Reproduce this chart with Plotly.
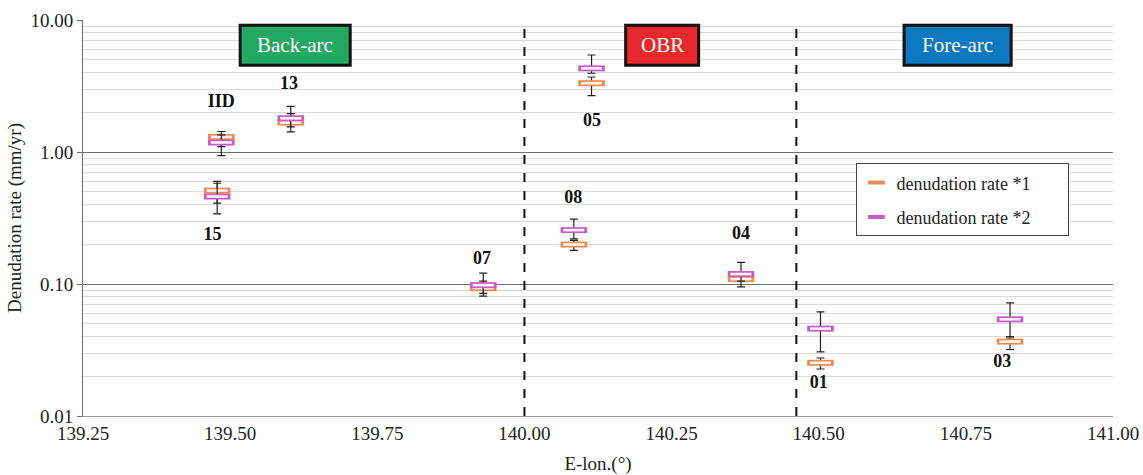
import plotly.graph_objects as go

# ---- data ----
sites = ["IID", "15", "13", "07", "08", "05", "04", "01", "03"]
lon = [139.485, 139.478, 139.603, 139.930, 140.084, 140.114, 140.368, 140.503, 140.825]
rate1 = [1.30, 0.51, 1.67, 0.093, 0.199, 3.32, 0.109, 0.0253, 0.0366]
rate1_hi = [1.43, 0.60, 1.95, 0.105, 0.214, 3.70, 0.120, 0.0275, 0.039]
rate1_lo = [1.10, 0.41, 1.42, 0.081, 0.180, 2.67, 0.095, 0.0227, 0.0319]
rate2 = [1.18, 0.46, 1.80, 0.098, 0.256, 4.30, 0.119, 0.0459, 0.054]
rate2_hi = [1.35, 0.58, 2.22, 0.121, 0.310, 5.43, 0.146, 0.0616, 0.072]
rate2_lo = [0.94, 0.34, 1.55, 0.085, 0.220, 3.95, 0.105, 0.0306, 0.040]
label_x = [139.485, 139.470, 139.600, 139.928, 140.083, 140.115, 140.368, 140.500, 140.812]
label_y = [2.38, 0.233, 3.25, 0.154, 0.443, 1.71, 0.237, 0.0177, 0.0255]

boundaries = [140.0, 140.462]
regions = ["Back-arc", "OBR", "Fore-arc"]
region_x0 = [139.517, 140.172, 140.645]
region_x1 = [139.704, 140.296, 140.827]
region_colors = ["#22a863", "#e8292b", "#0b78bf"]

x_ticks = [139.25, 139.50, 139.75, 140.00, 140.25, 140.50, 140.75, 141.00]
y_ticks = [0.01, 0.1, 1, 10]
y_ticktext = ["0.01", "0.10", "1.00", "10.00"]

SERIF = "Liberation Serif"
ORANGE = "#ef8b4f"
PINK = "#c85bc4"
PAD = "\u00a0" * 7

fig = go.Figure()


def add_series(name, vals, hi, lo, color, group):
    fig.add_trace(go.Scatter(
        x=lon, y=vals, mode="markers", name=name, legendgroup=group, showlegend=False,
        marker=dict(symbol="line-ew", size=19, line=dict(color=color, width=6)),
        error_y=dict(type="data", symmetric=False,
                     array=[h - v for h, v in zip(hi, vals)],
                     arrayminus=[v - l for v, l in zip(vals, lo)],
                     color="#222222", thickness=1.2, width=4),
    ))
    fig.add_trace(go.Scatter(
        x=lon, y=vals, mode="markers", showlegend=False, hoverinfo="skip",
        marker=dict(symbol="line-ew", size=15, line=dict(color="#fbf6f8", width=2.6)),
    ))
    # legend entry
    fig.add_trace(go.Scatter(
        x=[None], y=[None], mode="markers", name=name + PAD, legendgroup=group,
        marker=dict(symbol="line-ew", size=12, line=dict(color=color, width=4)),
    ))


add_series("denudation rate *1", rate1, rate1_hi, rate1_lo, ORANGE, "g1")
add_series("denudation rate *2", rate2, rate2_hi, rate2_lo, PINK, "g2")

fig.add_trace(go.Scatter(
    x=label_x, y=label_y, mode="text", text=sites, showlegend=False,
    textfont=dict(family=SERIF, size=18, color="#111111", weight="bold"),
    hoverinfo="skip",
))

shapes = []
for b in boundaries:
    shapes.append(dict(type="line", xref="x", yref="y domain", x0=b, x1=b, y0=0, y1=1,
                       line=dict(color="#111111", width=2, dash="dash")))
annotations = []
for name, x0, x1, c in zip(regions, region_x0, region_x1, region_colors):
    shapes.append(dict(type="rect", xref="x", yref="paper", x0=x0, x1=x1,
                       y0=0.886, y1=0.987, fillcolor=c,
                       line=dict(color="#111111", width=3)))
    annotations.append(dict(x=(x0 + x1) / 2, y=0.9365, xref="x", yref="paper",
                            xanchor="center", yanchor="middle",
                            text=name, showarrow=False,
                            font=dict(family=SERIF, size=21, color="white")))

minor_vals = [m * 10 ** e for e in (-2, -1, 0) for m in range(2, 10)]

fig.update_layout(
    width=1143, height=475,
    margin=dict(l=83, r=30, t=20, b=59),
    plot_bgcolor="white", paper_bgcolor="white",
    font=dict(family=SERIF, size=19, color="#222222"),
    shapes=shapes, annotations=annotations,
    showlegend=True,
    legend=dict(x=0.75, y=0.638, xanchor="left", yanchor="top",
                bordercolor="#444444", borderwidth=1, bgcolor="white",
                font=dict(family=SERIF, size=18, color="#222222"),
                tracegroupgap=8, itemwidth=30),
    xaxis=dict(range=[139.25, 141.0], tickvals=x_ticks, tickformat=".2f",
               showgrid=False, zeroline=False, showline=True, linecolor="#9a9a9a",
               ticks="", tickfont=dict(family=SERIF, size=19), automargin=False,
               title=dict(text="E-lon.(°)", font=dict(family=SERIF, size=19), standoff=13)),
    yaxis=dict(type="log", range=[-2, 1], tickvals=y_ticks, ticktext=y_ticktext,
               showgrid=True, gridcolor="#6e6e6e", gridwidth=1, automargin=False,
               showline=True, linecolor="#6e6e6e", ticks="outside", ticklen=5,
               tickcolor="#6e6e6e", zeroline=False, tickfont=dict(family=SERIF, size=19),
               minor=dict(tickmode="array", tickvals=minor_vals, showgrid=True,
                          gridcolor="#dadada", gridwidth=1, ticks=""),
               title=dict(text="Denudation rate (mm/yr)", font=dict(family=SERIF, size=19), standoff=3)),
)

fig.write_html("out.html")
